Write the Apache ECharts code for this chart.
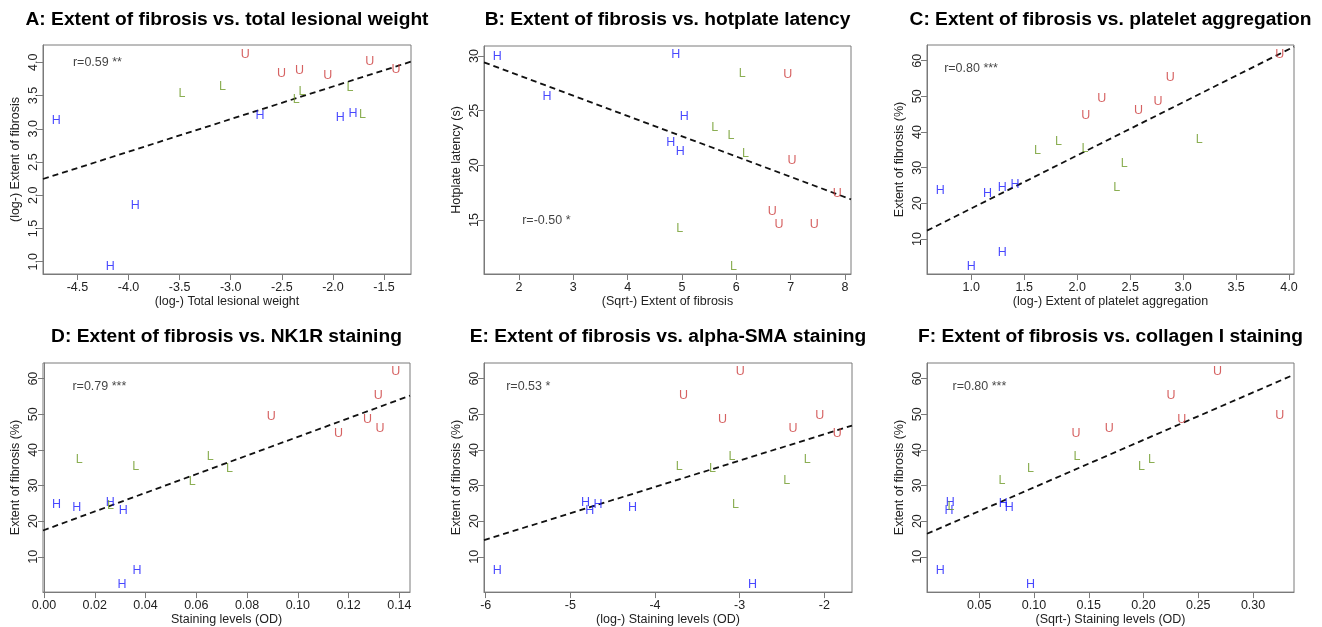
<!DOCTYPE html>
<html>
<head>
<meta charset="utf-8">
<script src="https://cdn.jsdelivr.net/npm/echarts@6/dist/echarts.min.js"></script>
<style>
html,body{margin:0;padding:0;background:#fff;}
#c{width:1322px;height:627px;}
</style>
</head>
<body>
<div id="c"></div>
<script>
// ---------- Panel titles and axis names ----------
const titles = [
  'A: Extent of fibrosis vs. total lesional weight',
  'B: Extent of fibrosis vs. hotplate latency',
  'C: Extent of fibrosis vs. platelet aggregation',
  'D: Extent of fibrosis vs. NK1R staining',
  'E: Extent of fibrosis vs. alpha-SMA staining',
  'F: Extent of fibrosis vs. collagen I staining'
];
const xNames = ['(log-) Total lesional weight', '(Sqrt-) Extent of fibrosis', '(log-) Extent of platelet aggregation',
  'Staining levels (OD)', '(log-) Staining levels (OD)', '(Sqrt-) Staining levels (OD)'];
const yNames = ['(log-) Extent of fibrosis', 'Hotplate latency (s)', 'Extent of fibrosis (%)',
  'Extent of fibrosis (%)', 'Extent of fibrosis (%)', 'Extent of fibrosis (%)'];

// ---------- Tick labels ----------
const xTicksA = ['-4.5','-4.0','-3.5','-3.0','-2.5','-2.0','-1.5'];
const yTicksA = ['1.0','1.5','2.0','2.5','3.0','3.5','4.0'];
const xTicksB = ['2','3','4','5','6','7','8'];
const yTicksB = ['15','20','25','30'];
const xTicksC = ['1.0','1.5','2.0','2.5','3.0','3.5','4.0'];
const xTicksD = ['0.00','0.02','0.04','0.06','0.08','0.10','0.12','0.14'];
const xTicksE = ['-6','-5','-4','-3','-2'];
const xTicksF = ['0.05','0.10','0.15','0.20','0.25','0.30'];
const yTicksPct = ['10','20','30','40','50','60'];

// ---------- Axis extents ----------
const xRangeA = [-4.837, -1.236], yRangeA = [0.815, 4.26];
const xRangeB = [1.356, 8.11],   yRangeB = [10.07, 30.91];
const xRangeC = [0.582, 4.047],  yRangeC = [0.19, 64.4];
const xRangeD = [-0.0004, 0.1442], yRangeD = [0.08, 64.4];
const xRangeE = [-6.02, -1.673], yRangeE = [0.08, 64.4];
const xRangeF = [0.0023, 0.3374], yRangeF = [0.08, 64.4];

// ---------- Data: [x, y] per group (H, L, U) ----------
const A_H = [[-4.706,3.13],[-3.935,1.84],[-4.18,0.92],[-2.714,3.197],[-1.927,3.167],[-1.803,3.227]];
const A_L = [[-3.478,3.533],[-3.08,3.629],[-2.358,3.433],[-2.303,3.558],[-1.833,3.619],[-1.712,3.207]];
const A_U = [[-2.858,4.12],[-2.502,3.824],[-2.326,3.875],[-2.051,3.794],[-1.64,4.01],[-1.382,3.895]];
const A_fit = [[-4.837,2.244],[-1.236,4.01]];

const B_H = [[1.60,29.97],[4.883,30.12],[2.515,26.26],[5.043,24.43],[4.791,22.09],[4.969,21.30]];
const B_L = [[6.11,28.39],[5.601,23.43],[5.902,22.70],[6.166,21.09],[4.957,14.27],[5.945,10.74]];
const B_U = [[6.945,28.33],[7.025,20.48],[7.859,17.44],[6.663,15.82],[6.785,14.55],[7.436,14.61]];
const B_fit = [[1.356,29.42],[8.11,16.89]];

const C_H = [[0.708,23.55],[1.154,22.8],[1.292,24.49],[1.412,25.23],[1.292,6.17],[1.0,2.24]];
const C_L = [[1.625,34.67],[1.823,37.2],[2.074,35.33],[2.445,31.3],[2.373,24.49],[3.152,37.94]];
const C_U = [[2.081,44.58],[2.232,49.35],[2.58,46.07],[2.762,48.41],[2.879,55.23],[3.912,61.78]];
const C_fit = [[0.582,12.34],[4.047,63.93]];

const D_H = [[0.0049,24.58],[0.0129,23.74],[0.0261,25.33],[0.0312,22.99],[0.0366,6.17],[0.0307,2.34]];
const D_L = [[0.0139,37.29],[0.0361,35.23],[0.0262,24.3],[0.0584,31.21],[0.0655,38.13],[0.0731,34.67]];
const D_U = [[0.0895,49.44],[0.116,44.58],[0.1275,48.6],[0.1324,46.07],[0.1317,55.23],[0.1386,61.87]];
const D_fit = [[-0.0004,17.38],[0.1442,55.23]];

const E_H = [[-5.862,6.07],[-4.822,25.33],[-4.770,22.99],[-4.672,24.58],[-4.266,23.74],[-2.847,2.34]];
const E_L = [[-3.714,35.23],[-3.320,34.67],[-3.092,38.13],[-3.048,24.58],[-2.445,31.4],[-2.201,37.29]];
const E_U = [[-3.663,55.23],[-2.993,61.87],[-3.202,48.5],[-2.370,45.98],[-2.055,49.53],[-1.846,44.58]];
const E_fit = [[-6.02,14.67],[-1.673,46.82]];

const F_H = [[0.0145,6.07],[0.0236,25.3],[0.0224,22.99],[0.0719,24.9],[0.0773,23.74],[0.0968,2.34]];
const F_L = [[0.0242,24.2],[0.0707,31.4],[0.0968,34.67],[0.1393,38.13],[0.1982,35.23],[0.2073,37.29]];
const F_U = [[0.1384,44.49],[0.1688,45.98],[0.225,55.23],[0.235,48.6],[0.2675,61.87],[0.3243,49.53]];
const F_fit = [[0.0023,16.45],[0.3374,61.12]];

// ---------- Correlation annotations: text and anchor (left edge, data coords) ----------
const rTexts = ['r=0.59 **', 'r=-0.50 *', 'r=0.80 ***', 'r=0.79 ***', 'r=0.53 *', 'r=0.80 ***'];
const rPos = [[-4.549,4.0],[2.05,14.94],[0.739,57.85],[0.011,57.85],[-5.764,57.85],[0.0251,57.85]];

// ---------- Layout ----------
const grids = [
  {left:43, top:45, width:368, height:229},
  {left:484, top:46, width:367, height:228},
  {left:927, top:45, width:367, height:229},
  {left:43, top:363, width:367, height:230},
  {left:484, top:363, width:368, height:230},
  {left:927, top:363, width:367, height:230}
];

const panels = [
  {xt:xTicksA, yt:yTicksA, xr:xRangeA, yr:yRangeA, H:A_H, L:A_L, U:A_U, fit:A_fit},
  {xt:xTicksB, yt:yTicksB, xr:xRangeB, yr:yRangeB, H:B_H, L:B_L, U:B_U, fit:B_fit},
  {xt:xTicksC, yt:yTicksPct, xr:xRangeC, yr:yRangeC, H:C_H, L:C_L, U:C_U, fit:C_fit},
  {xt:xTicksD, yt:yTicksPct, xr:xRangeD, yr:yRangeD, H:D_H, L:D_L, U:D_U, fit:D_fit},
  {xt:xTicksE, yt:yTicksPct, xr:xRangeE, yr:yRangeE, H:E_H, L:E_L, U:E_U, fit:E_fit},
  {xt:xTicksF, yt:yTicksPct, xr:xRangeF, yr:yRangeF, H:F_H, L:F_L, U:F_U, fit:F_fit}
];

const FONT = '"Liberation Sans", Arial, sans-serif';
const GRAY = '#7a7a7a';
const groupColors = {H:'#1a1aff', L:'#6e9a28', U:'#cc3b3b'};

function fmtFrom(ticks){
  const nums = ticks.map(Number);
  return function(v){
    let best = 0, bd = Infinity;
    nums.forEach((n,i)=>{ const d = Math.abs(n - v); if (d < bd){bd = d; best = i;} });
    return ticks[best];
  };
}

const option = {
  animation:false,
  backgroundColor:'#fff',
  title:[], grid:[], xAxis:[], yAxis:[], series:[]
};

panels.forEach((p, i) => {
  const g = grids[i];
  option.grid.push(Object.assign({show:true, borderColor:GRAY, borderWidth:1, backgroundColor:'transparent', containLabel:false}, g));
  option.title.push({
    text: titles[i],
    left: g.left + g.width/2 - 5,
    top: i < 3 ? 5 : 322,
    textAlign:'center',
    textStyle:{fontFamily:FONT, fontWeight:'bold', fontSize:19.2, color:'#000'}
  });
  const axisCommon = {
    axisLine:{show:true, lineStyle:{color:GRAY, width:1}},
    splitLine:{show:false},
    nameLocation:'middle',
    nameTextStyle:{fontFamily:FONT, fontSize:12.5, color:'#222'}
  };
  option.xAxis.push(Object.assign({}, axisCommon, {
    type:'value', gridIndex:i, min:p.xr[0], max:p.xr[1],
    name:xNames[i], nameGap:18,
    axisTick:{show:true, length:6, inside:false, lineStyle:{color:GRAY}, customValues:p.xt.map(Number)},
    axisLabel:{show:true, margin:7, fontFamily:FONT, fontSize:12.5, color:'#222',
      customValues:p.xt.map(Number), formatter:fmtFrom(p.xt)}
  }));
  option.yAxis.push(Object.assign({}, axisCommon, {
    type:'value', gridIndex:i, min:p.yr[0], max:p.yr[1],
    name:yNames[i], nameGap:21, nameRotate:90,
    axisTick:{show:true, length:6, inside:false, lineStyle:{color:GRAY}, customValues:p.yt.map(Number)},
    axisLabel:{show:true, margin:3, rotate:90, fontFamily:FONT, fontSize:12.5, color:'#222',
      customValues:p.yt.map(Number), formatter:fmtFrom(p.yt)}
  }));
  // fit line
  option.series.push({
    type:'line', xAxisIndex:i, yAxisIndex:i, data:p.fit, symbol:'none', silent:true,
    lineStyle:{color:'#111', width:1.8, type:[6,4]}, z:2
  });
  ['H','L','U'].forEach(k => {
    option.series.push({
      type:'scatter', xAxisIndex:i, yAxisIndex:i, data:p[k], silent:true,
      symbol:'circle', symbolSize:1, itemStyle:{color:'rgba(0,0,0,0)'},
      label:{show:true, position:'inside', formatter:k, color:groupColors[k],
        fontFamily:FONT, fontSize:12.5},
      emphasis:{disabled:true}, z:3
    });
  });
  option.series.push({
    type:'scatter', xAxisIndex:i, yAxisIndex:i, data:[rPos[i]], silent:true,
    symbol:'circle', symbolSize:1, itemStyle:{color:'rgba(0,0,0,0)'},
    label:{show:true, position:'right', distance:0, formatter:rTexts[i], color:'#111',
      fontFamily:FONT, fontSize:12.5},
    emphasis:{disabled:true}, z:3
  });
});

const chart = echarts.init(document.getElementById('c'), null, {renderer:'canvas'});
chart.setOption(option);
</script>
</body>
</html>
